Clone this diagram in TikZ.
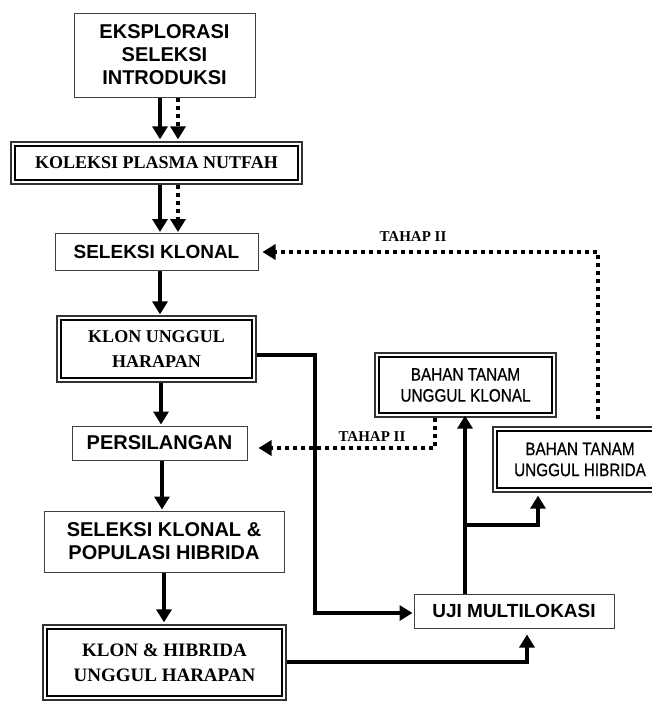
\documentclass[tikz,border=0pt]{standalone}
\usepackage{fontspec}
\setmainfont{Liberation Serif}
\setsansfont{Liberation Sans}
\newfontfamily\narrowsans[FakeStretch=0.85,FakeBold=0.6]{Liberation Sans}
\usetikzlibrary{arrows.meta,calc}
\tikzset{
  sbox/.style={draw=black!75, line width=1pt, rectangle, inner sep=0pt, align=center, fill=white},
  dbox/.style={draw=black!80, line width=1.3pt, rectangle, inner sep=0pt, align=center, fill=white},
  sarr/.style={line width=4.5pt, line join=miter, -{Triangle[length=13pt,width=15pt]}},
  sline/.style={line width=4.5pt, line join=miter},
  darr/.style={line width=4pt, dash pattern=on 4pt off 4pt, line join=miter, -{Triangle[length=13pt,width=15pt]}},
  lbl/.style={font=\rmfamily\bfseries\fontsize{15}{17}\selectfont, inner sep=0pt},
}
\newcommand{\innerframe}[1]{\draw[line width=2.4pt] ([xshift=4.5pt,yshift=-4.5pt]#1.north west) rectangle ([xshift=-4.5pt,yshift=4.5pt]#1.south east);}
\begin{document}
\begin{tikzpicture}[x=1pt,y=-1pt]
\useasboundingbox (0,0) rectangle (652,702);
% nodes
\node[sbox, minimum width=181pt, minimum height=84pt, font=\sffamily\bfseries\fontsize{20}{23}\selectfont] (n1) at (164.5,55) {EKSPLORASI\\SELEKSI\\INTRODUKSI};
\node[dbox, minimum width=291pt, minimum height=42pt, font=\rmfamily\bfseries\fontsize{18}{21}\selectfont] (n2) at (156.5,163) {KOLEKSI PLASMA NUTFAH};
\innerframe{n2}
\node[sbox, minimum width=203pt, minimum height=37pt, font=\sffamily\bfseries\fontsize{19}{22}\selectfont] (n3) at (156.5,252) {SELEKSI KLONAL};
\node[dbox, minimum width=199pt, minimum height=66pt, font=\rmfamily\bfseries\fontsize{18}{25}\selectfont] (n4) at (156.5,349) {KLON UNGGUL\\HARAPAN};
\innerframe{n4}
\node[sbox, minimum width=175pt, minimum height=34pt, font=\sffamily\bfseries\fontsize{20}{23}\selectfont] (n5) at (159.5,443) {PERSILANGAN};
\node[sbox, minimum width=240pt, minimum height=61pt, font=\sffamily\bfseries\fontsize{20}{23}\selectfont] (n6) at (164,541.5) {SELEKSI KLONAL \&\\POPULASI HIBRIDA};
\node[dbox, minimum width=243pt, minimum height=75pt, font=\rmfamily\bfseries\fontsize{19}{25}\selectfont] (n7) at (164.5,662.5) {KLON \& HIBRIDA\\UNGGUL HARAPAN};
\innerframe{n7}
\node[dbox, minimum width=181pt, minimum height=64pt, font=\narrowsans\fontsize{18}{21}\selectfont] (n8) at (465.5,385) {BAHAN TANAM\\UNGGUL KLONAL};
\innerframe{n8}
\node[dbox, minimum width=174pt, minimum height=65pt, font=\narrowsans\fontsize{18}{21}\selectfont] (n9) at (580,459.5) {BAHAN TANAM\\UNGGUL HIBRIDA};
\innerframe{n9}
\node[sbox, minimum width=200pt, minimum height=34pt, font=\sffamily\bfseries\fontsize{19}{22}\selectfont] (n10) at (514,611) {UJI MULTILOKASI};
% helper coordinates
\coordinate (xa) at (160,0);
\coordinate (xb) at (178,0);
\coordinate (xc) at (161,0);
\coordinate (xd) at (162,0);
\coordinate (xe) at (164,0);
\coordinate (k1) at (315,355);
\coordinate (k2) at (315,613);
\coordinate (k3) at (527,662);
\coordinate (k4) at (465,525);
\coordinate (k5) at (538,525);
\coordinate (d1) at (598,252);
\coordinate (d2) at (435,448);
% vertical chain
\draw[sarr, shorten >=2pt] (n1.south -| xa) -- (n2.north -| xa);
\draw[darr, shorten >=2pt] (n1.south -| xb) -- (n2.north -| xb);
\draw[sarr, shorten >=1pt] (n2.south -| xa) -- (n3.north -| xa);
\draw[darr, shorten >=1pt] (n2.south -| xb) -- (n3.north -| xb);
\draw[sarr, shorten >=1pt] (n3.south -| xa) -- (n4.north -| xa);
\draw[sarr, shorten >=1pt] (n4.south -| xc) -- (n5.north -| xc);
\draw[sarr, shorten >=1pt] (n5.south -| xd) -- (n6.north -| xd);
\draw[sarr, shorten >=2pt] (n6.south -| xe) -- (n7.north -| xe);
% to UJI MULTILOKASI
\draw[sarr, shorten >=1pt] (n4.east |- k1) -- (k1) -- (k2) -- (n10.west |- k2);
\draw[sarr, shorten >=6pt] (n7.east |- k3) -- (k3) -- (n10.south -| k3);
% from UJI MULTILOKASI
\draw[sarr, shorten >=-2pt] (n10.north -| k4) -- (n8.south -| k4);
\draw[sarr, shorten >=3pt] (k4) -- (k5) -- (n9.south -| k5);
% TAHAP II feedback
\draw[darr, shorten <=7pt, shorten >=4pt] (n9.north -| d1) -- (d1) -- (n3.east |- d1);
\draw[darr, shorten >=11pt] (n8.south -| d2) -- (d2) -- (n5.east |- d2);
\node[lbl] (t1) at (413,237) {TAHAP II};
\node[lbl] (t2) at (372,437) {TAHAP II};
\end{tikzpicture}
\end{document}
